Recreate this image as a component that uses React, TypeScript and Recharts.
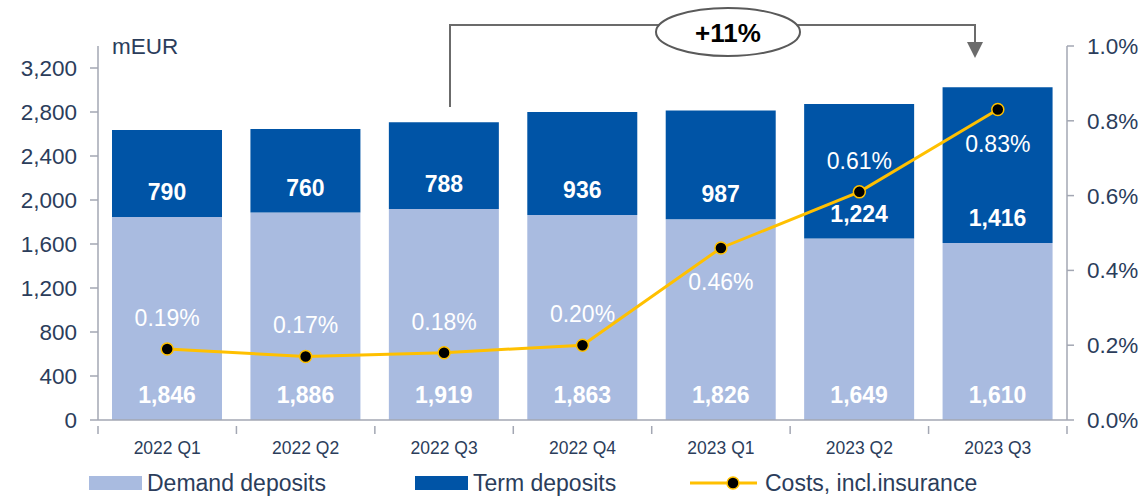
import { Bar, ComposedChart, LabelList, Line, XAxis, YAxis } from 'recharts';

const quarters = ['2022 Q1', '2022 Q2', '2022 Q3', '2022 Q4', '2023 Q1', '2023 Q2', '2023 Q3'];
const demandDeposits = [1846, 1886, 1919, 1863, 1826, 1649, 1610];
const termDeposits = [790, 760, 788, 936, 987, 1224, 1416];
const costs = [0.19, 0.17, 0.18, 0.2, 0.46, 0.61, 0.83];
const costLabelSide = ['above', 'above', 'above', 'above', 'below', 'above', 'below'];

const leftTicks = [0, 400, 800, 1200, 1600, 2000, 2400, 2800, 3200];
const rightTicks = [0, 0.2, 0.4, 0.6, 0.8, 1.0];

const chartData = quarters.map((q, i) => ({
  name: q,
  demand: demandDeposits[i],
  term: termDeposits[i],
  cost: costs[i],
}));

const FONT = '"Liberation Sans", Arial, sans-serif';
const TEXT = '#2B3D5B';
const AXIS = '#A3A7B3';
const DEMAND = '#A9BBE0';
const TERM = '#0054A6';
const LINE = '#FFC000';

const PLOT_LEFT = 98;
const PLOT_RIGHT = 1067;
const BAND = (PLOT_RIGHT - PLOT_LEFT) / quarters.length;

const fmt = (v: number) => v.toLocaleString('en-US');

function XTick(props: any) {
  const { x, y, payload, index } = props;
  const half = BAND / 2;
  return (
    <g>
      <line x1={x - half} x2={x - half} y1={y - 2} y2={y + 6} stroke={AXIS} strokeWidth={1.5} />
      {index === quarters.length - 1 && (
        <line x1={x + half} x2={x + half} y1={y - 2} y2={y + 6} stroke={AXIS} strokeWidth={1.5} />
      )}
      <text x={x} y={y + 26} textAnchor="middle" fontSize={17.5} fill={TEXT} fontFamily={FONT}>
        {payload.value}
      </text>
    </g>
  );
}

function barLabel(props: any) {
  const { x, y, width, height, value } = props;
  return (
    <text
      x={x + width / 2}
      y={y + height - 25}
      textAnchor="middle"
      dominantBaseline="central"
      fill="#fff"
      fontWeight="bold"
      fontSize={23}
      fontFamily={FONT}
    >
      {fmt(value)}
    </text>
  );
}

function costLabel(props: any) {
  const { x, y, value, index } = props;
  const side = costLabelSide[index] ?? 'above';
  return (
    <text
      x={x}
      y={side === 'above' ? y - 31 : y + 34}
      textAnchor="middle"
      dominantBaseline="central"
      fill="#fff"
      fontSize={23}
      fontFamily={FONT}
    >
      {value.toFixed(2)}%
    </text>
  );
}

export default function App() {
  return (
    <div style={{ position: 'absolute', left: 0, top: 0, width: 1143, height: 498, background: '#fff', fontFamily: FONT }}>
      <ComposedChart
        width={1143}
        height={460}
        data={chartData}
        margin={{ top: 46, right: 0, bottom: 0, left: 0 }}
      >
        <XAxis
          dataKey="name"
          height={40}
          axisLine={{ stroke: AXIS, strokeWidth: 1.5 }}
          tickLine={false}
          tick={<XTick />}
          interval={0}
        />
        <YAxis
          yAxisId="left"
          width={98}
          domain={[0, 3400]}
          ticks={leftTicks}
          tickFormatter={fmt}
          axisLine={{ stroke: AXIS, strokeWidth: 1.5 }}
          tickLine={{ stroke: AXIS, strokeWidth: 1.5 }}
          tickSize={8}
          tickMargin={13}
          tick={{ fill: TEXT, fontSize: 22.5, fontFamily: FONT }}
        />
        <YAxis
          yAxisId="right"
          orientation="right"
          width={76}
          domain={[0, 1]}
          ticks={rightTicks}
          tickFormatter={(v: number) => `${v.toFixed(1)}%`}
          axisLine={{ stroke: AXIS, strokeWidth: 1.5 }}
          tickLine={{ stroke: AXIS, strokeWidth: 1.5 }}
          tickSize={7}
          tickMargin={13}
          tick={{ fill: TEXT, fontSize: 22.5, fontFamily: FONT }}
        />
        <Bar yAxisId="left" dataKey="demand" stackId="a" fill={DEMAND} barSize={110} isAnimationActive={false}>
          <LabelList dataKey="demand" content={barLabel} />
        </Bar>
        <Bar yAxisId="left" dataKey="term" stackId="a" fill={TERM} barSize={110} isAnimationActive={false}>
          <LabelList dataKey="term" content={barLabel} />
        </Bar>
        <Line
          yAxisId="right"
          dataKey="cost"
          stroke={LINE}
          strokeWidth={3}
          dot={{ r: 6, fill: '#000', stroke: LINE, strokeWidth: 1.5 }}
          isAnimationActive={false}
        >
          <LabelList dataKey="cost" content={costLabel} />
        </Line>
      </ComposedChart>

      <svg
        width={1143}
        height={498}
        style={{ position: 'absolute', left: 0, top: 0, pointerEvents: 'none' }}
      >
        <text x={112} y={54} fontSize={22.5} fill={TEXT} fontFamily={FONT}>mEUR</text>
        <path d="M450,107 V25 H975 V44" fill="none" stroke="#6B6B6B" strokeWidth={2} />
        <polygon points="967,42 983,42 975,58" fill="#6B6B6B" />
        <ellipse cx={728} cy={32} rx={72} ry={24} fill="#fff" stroke="#5A5A5A" strokeWidth={2} />
        <text x={728} y={33} textAnchor="middle" dominantBaseline="central" fontSize={26} fontWeight="bold" fill="#000" fontFamily={FONT}>
          +11%
        </text>

        <rect x={89} y={476} width={53} height={14} fill={DEMAND} />
        <text x={147} y={491} fontSize={23} fill={TEXT} fontFamily={FONT}>Demand deposits</text>
        <rect x={415} y={476} width={53} height={14} fill={TERM} />
        <text x={473} y={491} fontSize={23} fill={TEXT} fontFamily={FONT}>Term deposits</text>
        <line x1={690} x2={757} y1={483} y2={483} stroke={LINE} strokeWidth={3} />
        <circle cx={733} cy={483} r={6} fill="#000" stroke={LINE} strokeWidth={1.5} />
        <text x={765} y={491} fontSize={23} fill={TEXT} fontFamily={FONT}>Costs, incl.insurance</text>
      </svg>
    </div>
  );
}
